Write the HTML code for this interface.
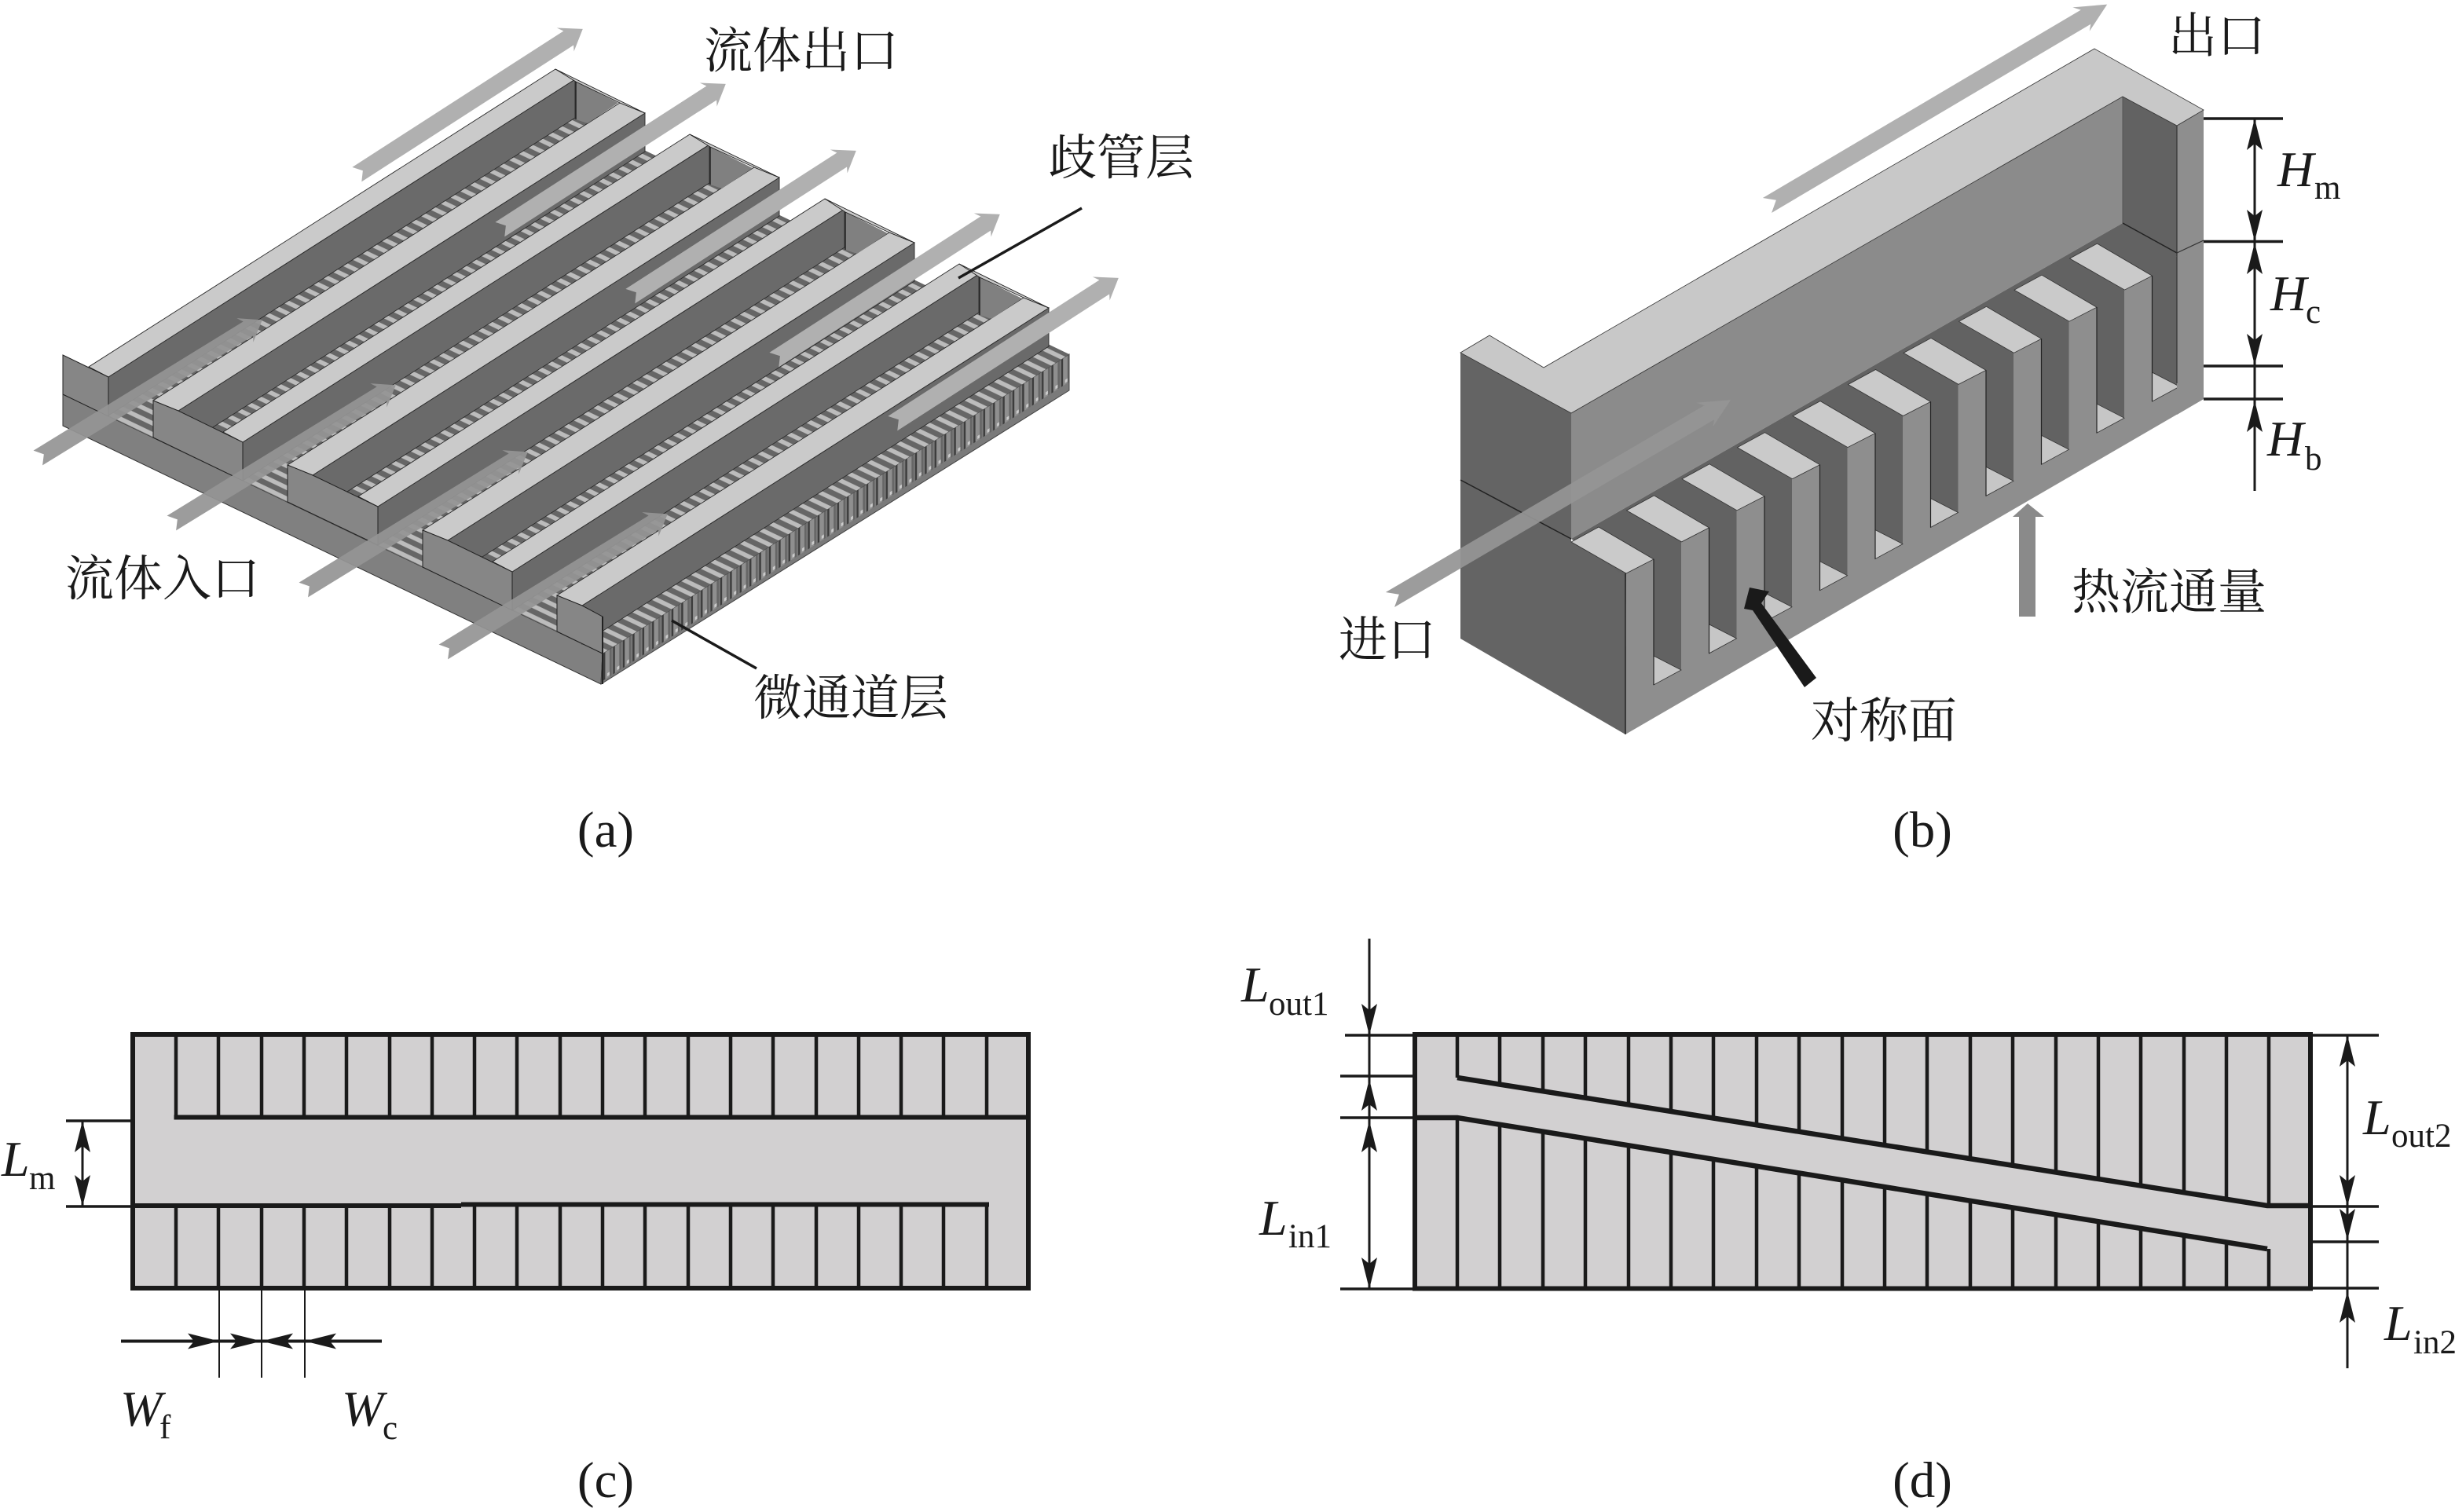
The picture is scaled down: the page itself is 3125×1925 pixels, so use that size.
<!DOCTYPE html>
<html lang="zh"><head><meta charset="utf-8"><title>歧管微通道结构示意图</title>
<style>
html,body{margin:0;padding:0;background:#fff}
svg{display:block}
text{font-family:"Liberation Serif","Noto Serif CJK SC",serif;fill:#1a1a1a}
.c{font-size:62px}
.i{font-size:64px;font-style:italic}
.s{font-size:43px}
.p{font-size:65px;text-anchor:middle}
</style></head><body>
<svg xmlns="http://www.w3.org/2000/svg" width="3125" height="1925" viewBox="0 0 3125 1925">
<defs>
<pattern id="fl" patternUnits="userSpaceOnUse" width="12.4" height="20" patternTransform="matrix(1,-.641,1,.48,767,832)">
<rect width="12.4" height="20" fill="#666"/><rect x="1" width="5.500" height="20" fill="#bcbcbc"/>
</pattern>
<pattern id="sd" patternUnits="userSpaceOnUse" width="12.4" height="47" patternTransform="matrix(1,-.641,0,1,767,832)">
<rect width="12.4" height="47" fill="#7a7a7a"/>
<rect x="1" y="0" width="2.500" height="35" fill="#3c3c3c"/>
<rect x="3.500" y="0" width="5.500" height="35" fill="#8f8f8f"/>
<rect x="9" y="0" width="2.500" height="35" fill="#666"/>
<rect x="6" y="29" width="3" height="4" fill="#ccc"/>
</pattern>
<path id="ah" d="M0,0 L-10,40 L0,32 L10,40Z" fill="#1a1a1a"/>
<polygon id="ar" points="-2,-11 318,-11 313,-19 340,0 315,18 319,11 -2,11 7,0"/>
<g id="ew"><polygon points="733,104 787,131 748,157 733,152" fill="#808080"/><line x1="733" y1="104" x2="733" y2="152" stroke="#222" stroke-width="1.500"/></g>
<g id="bf">
<polygon points="2035,671 2072,650 2140,690 2140,853 2105,835 2105,712" fill="#626262"/>
<polygon points="2105,835 2140,853 2105,872" fill="#c6c6c6" stroke="#333" stroke-width=".8"/>
<polygon points="2000,690 2035,671 2105,712 2070,730" fill="#cacaca" stroke="#333" stroke-width=".8"/>
<line x1="2105" y1="712" x2="2105" y2="872" stroke="#222" stroke-width="1.200"/>
</g>
</defs>
<rect width="3125" height="1925" fill="#fff"/>

<!-- panel a: base -->
<polygon points="80,502 767,832 765,871 80,542" fill="#808080" stroke="#333" stroke-width="1"/>
<polygon points="767,832 1361,451 1361,497 765,871" fill="url(#sd)" stroke="#444" stroke-width="1"/>
<polygon points="80,502 767,832 1361,451 674,121" fill="url(#fl)"/>

<!-- walls and strips -->
<g stroke="#2a2a2a" stroke-width=".9">
<polygon points="138,480 732,101 732,150 138,529" fill="#6a6a6a"/>
<polygon points="113,467 138,480 732,101 707,88" fill="#cacaca"/>
<polygon points="227,523 821,144 821,193 227,572" fill="#6a6a6a"/>
<polygon points="195,510 227,523 821,144 789,131" fill="#cacaca"/>
<polygon points="309,563 903,184 903,233 309,612" fill="#6a6a6a"/>
<polygon points="284,550 309,563 903,184 878,171" fill="#cacaca"/>
<polygon points="398,605 992,226 992,275 398,654" fill="#6a6a6a"/>
<polygon points="366,592 398,605 992,226 960,213" fill="#cacaca"/>
<polygon points="481,645 1075,266 1075,315 481,694" fill="#6a6a6a"/>
<polygon points="456,632 481,645 1075,266 1050,253" fill="#cacaca"/>
<polygon points="570,688 1164,309 1164,358 570,737" fill="#6a6a6a"/>
<polygon points="538,675 570,688 1164,309 1132,296" fill="#cacaca"/>
<polygon points="652,728 1246,349 1246,398 652,777" fill="#6a6a6a"/>
<polygon points="627,715 652,728 1246,349 1221,336" fill="#cacaca"/>
<polygon points="741,771 1335,392 1335,441 741,820" fill="#6a6a6a"/>
<polygon points="709,758 741,771 1335,392 1303,379" fill="#cacaca"/>
</g>
<use href="#ew"/>
<use href="#ew" transform="translate(171,83)"/>
<use href="#ew" transform="translate(343,166)"/>
<use href="#ew" transform="translate(514,249)"/>
<g fill="#cacaca" stroke="#222" stroke-width=".9">
<polygon points="707,88 821,144 789,131 733,104"/>
<polygon points="878,171 992,226 960,213 904,187"/>
<polygon points="1050,253 1164,309 1132,296 1076,270"/>
<polygon points="1221,336 1335,392 1303,379 1247,353"/>
</g>
<!-- front plates -->
<g fill="#868686" stroke="#222" stroke-width="1">
<polygon points="80,452 138,480 138,530 80,502"/>
<polygon points="195,510 227,523 309,563 309,612 195,557"/>
<polygon points="366,592 398,605 481,645 481,694 366,639"/>
<polygon points="538,675 570,688 652,728 652,777 538,722"/>
<polygon points="709,758 741,771 767,785 767,832 709,804"/>
</g>
<line x1="767" y1="785" x2="767" y2="871" stroke="#222" stroke-width="2"/>

<!-- arrows panel a -->
<g fill="#b0b0b0">
<use href="#ar" transform="translate(456,221) rotate(-32.8)"/>
<use href="#ar" transform="translate(638,291) rotate(-32.8)"/>
<use href="#ar" transform="translate(804,376) rotate(-32.8)"/>
<use href="#ar" transform="translate(987,457) rotate(-32.8)"/>
<use href="#ar" transform="translate(1138,538) rotate(-32.8)"/>
</g>
<g fill="#959595" fill-opacity=".93">
<use href="#ar" transform="translate(50,582) rotate(-31.6) scale(.98,1)"/>
<use href="#ar" transform="translate(220,665) rotate(-31.6) scale(.98,1)"/>
<use href="#ar" transform="translate(388,750) rotate(-31.6) scale(.98,1)"/>
<use href="#ar" transform="translate(566,829) rotate(-31.6) scale(.98,1)"/>
</g>

<line x1="1377" y1="265" x2="1220" y2="354" stroke="#1a1a1a" stroke-width="3.500"/>
<line x1="855" y1="790" x2="963" y2="851" stroke="#1a1a1a" stroke-width="3.500"/>
<text class="c" x="896" y="86">流体出口</text>
<text class="c" x="1334" y="222">歧管层</text>
<text class="c" x="83" y="758">流体入口</text>
<text class="c" x="959" y="910">微通道层</text>
<text class="p" x="771" y="1078">(a)</text>

<!-- panel b -->
<polygon points="1859,449 2000,526 2000,690 2070,730 2069,935 1859,813" fill="#646464"/>
<line x1="1859" y1="611" x2="2000" y2="686" stroke="#222" stroke-width="1.500"/>
<polygon points="2000,526 2702,123 2702,284 2000,686" fill="#8b8b8b"/>
<polygon points="2702,123 2771,160 2771,490 2702,450" fill="#626262"/>
<polygon points="2000,686 2702,284 2771,322 2771,345 2070,735" fill="#626262"/>
<line x1="2702" y1="123" x2="2702" y2="284" stroke="#555" stroke-width="1"/>
<line x1="2702" y1="284" x2="2771" y2="322" stroke="#222" stroke-width="1.500"/>
<polygon points="2070,730 2805,306 2805,508 2069,935" fill="#8e8e8e"/>
<use href="#bf"/>
<use href="#bf" transform="translate(70.5,-40.1)"/>
<use href="#bf" transform="translate(141,-80.2)"/>
<use href="#bf" transform="translate(211.5,-120.3)"/>
<use href="#bf" transform="translate(282,-160.4)"/>
<use href="#bf" transform="translate(352.5,-200.5)"/>
<use href="#bf" transform="translate(423,-240.6)"/>
<use href="#bf" transform="translate(493.5,-280.7)"/>
<use href="#bf" transform="translate(564,-320.8)"/>
<use href="#bf" transform="translate(634.5,-360.9)"/>
<polygon points="2771,160 2805,140 2805,508 2771,528" fill="#8e8e8e"/>
<line x1="2771" y1="322" x2="2805" y2="306" stroke="#333" stroke-width="1.200"/>
<line x1="2771" y1="160" x2="2771" y2="488" stroke="#333" stroke-width="1.200"/>
<polygon points="1859,449 1896,427 1965,468 2666,62 2805,140 2771,160 2702,123 2000,526" fill="#c8c8c8" stroke="#333" stroke-width=".8"/>
<line x1="2069" y1="730" x2="2069" y2="935" stroke="#222" stroke-width="1.500"/>

<use href="#ar" fill="#b0b0b0" transform="translate(2252,260) rotate(-30.6) scale(1.47,1)"/>
<use href="#ar" fill="#959595" fill-opacity=".93" transform="translate(1772,762) rotate(-30.4) scale(1.47,1)"/>
<polygon points="2570,785 2591,785 2591,658 2602,658 2581,641 2562,658 2570,658" fill="#8a8a8a"/>
<polygon points="2227,748 2252,753 2242,768 2312,863 2297,875 2231,777 2220,775" fill="#1a1a1a"/>

<g stroke="#1a1a1a" stroke-width="3.500">
<line x1="2805" y1="151" x2="2906" y2="151"/>
<line x1="2805" y1="307.5" x2="2906" y2="307.5"/>
<line x1="2805" y1="466" x2="2906" y2="466"/>
<line x1="2805" y1="508" x2="2906" y2="508"/>
<line x1="2870" y1="151" x2="2870" y2="625" stroke-width="3"/>
</g>
<use href="#ah" transform="translate(2870,151)"/>
<use href="#ah" transform="translate(2870,307) rotate(180)"/>
<use href="#ah" transform="translate(2870,309)"/>
<use href="#ah" transform="translate(2870,465) rotate(180)"/>
<use href="#ah" transform="translate(2870,510)"/>
<text class="i" x="2899" y="237">H</text><text class="s" x="2946" y="253">m</text>
<text class="i" x="2890" y="395">H</text><text class="s" x="2935" y="411">c</text>
<text class="i" x="2886" y="580">H</text><text class="s" x="2934" y="598">b</text>
<text class="c" x="2760" y="67">出口</text>
<text class="c" x="1704" y="836">进口</text>
<text class="c" x="2637" y="775">热流通量</text>
<text class="c" x="2305" y="939">对称面</text>
<text class="p" x="2447" y="1078">(b)</text>

<!-- panel c -->
<rect x="169" y="1317" width="1140" height="323" fill="#d2d0d1" stroke="#1a1a1a" stroke-width="6"/>
<path fill="none" stroke="#1a1a1a" stroke-width="4.500" d="M224 1317V1422M278 1317V1422M333 1317V1422M387 1317V1422M441 1317V1422M496 1317V1422M550 1317V1422M604 1317V1422M658 1317V1422M713 1317V1422M767 1317V1422M821 1317V1422M876 1317V1422M930 1317V1422M984 1317V1422M1039 1317V1422M1093 1317V1422M1147 1317V1422M1201 1317V1422M1256 1317V1422
M224 1534V1640M278 1534V1640M333 1534V1640M387 1534V1640M441 1534V1640M496 1534V1640M550 1534V1640M604 1534V1640M658 1534V1640M713 1534V1640M767 1534V1640M821 1534V1640M876 1534V1640M930 1534V1640M984 1534V1640M1039 1534V1640M1093 1534V1640M1147 1534V1640M1201 1534V1640M1256 1534V1640"/>
<path fill="none" stroke="#1a1a1a" stroke-width="6" d="M221.500 1422.500H1309M169 1535H587M587 1533.500H1259"/>
<g stroke="#1a1a1a">
<path fill="none" stroke-width="3.500" d="M84 1427H169M84 1536H169"/>
<line x1="105" y1="1427" x2="105" y2="1536" stroke-width="3"/>
<path fill="none" stroke-width="2" d="M279 1640V1754M333 1640V1754M388 1640V1754"/>
<line x1="154" y1="1707.500" x2="486" y2="1707.500" stroke-width="4"/>
</g>
<use href="#ah" transform="translate(105,1427)"/>
<use href="#ah" transform="translate(105,1536) rotate(180)"/>
<use href="#ah" transform="translate(279,1707.500) rotate(90)"/>
<use href="#ah" transform="translate(333,1707.500) rotate(90)"/>
<use href="#ah" transform="translate(333,1707.500) rotate(-90)"/>
<use href="#ah" transform="translate(388,1707.500) rotate(-90)"/>
<text class="i" x="2" y="1497">L</text><text class="s" x="37" y="1514">m</text>
<text class="i" x="153" y="1815">W</text><text class="s" x="203" y="1831">f</text>
<text class="i" x="435" y="1815">W</text><text class="s" x="487" y="1832">c</text>
<text class="p" x="771" y="1906">(c)</text>

<!-- panel d -->
<rect x="1801" y="1317" width="1140" height="323.500" fill="#d2d0d1" stroke="#1a1a1a" stroke-width="6"/>
<path fill="none" stroke="#1a1a1a" stroke-width="4.500" d="M1855 1317V1372M1909 1317V1381M1964 1317V1389M2018 1317V1398M2073 1317V1406M2127 1317V1415M2181 1317V1424M2236 1317V1432M2290 1317V1441M2345 1317V1449M2399 1317V1458M2453 1317V1467M2508 1317V1475M2562 1317V1484M2617 1317V1492M2671 1317V1501M2725 1317V1510M2780 1317V1518M2834 1317V1527M2888 1317V1535
M1855 1423V1640M1909 1432V1640M1964 1441V1640M2018 1449V1640M2073 1458V1640M2127 1467V1640M2181 1476V1640M2236 1485V1640M2290 1493V1640M2345 1502V1640M2399 1511V1640M2453 1520V1640M2508 1529V1640M2562 1537V1640M2617 1546V1640M2671 1555V1640M2725 1564V1640M2780 1573V1640M2834 1582V1640M2888 1590V1640"/>
<path fill="none" stroke="#1a1a1a" stroke-width="6.500" d="M1855 1372L2886 1535H2941M1801 1423H1855L2886 1590"/>
<g stroke="#1a1a1a">
<path fill="none" stroke-width="3.500" d="M1712 1318H1801M1706 1370H1801M1706 1423H1801M1706 1641H1801M2941 1318H3028M2941 1536H3028M2941 1581H3028M2941 1640H3028"/>
<line x1="1743" y1="1195" x2="1743" y2="1641" stroke-width="3"/>
<line x1="2988" y1="1318" x2="2988" y2="1742" stroke-width="3"/>
</g>
<use href="#ah" transform="translate(1743,1318) rotate(180)"/>
<use href="#ah" transform="translate(1743,1374)"/>
<use href="#ah" transform="translate(1743,1427)"/>
<use href="#ah" transform="translate(1743,1641) rotate(180)"/>
<use href="#ah" transform="translate(2988,1318)"/>
<use href="#ah" transform="translate(2988,1536) rotate(180)"/>
<use href="#ah" transform="translate(2988,1579) rotate(180)"/>
<use href="#ah" transform="translate(2988,1644)"/>
<text class="i" x="1580" y="1275">L</text><text class="s" x="1615" y="1292">out1</text>
<text class="i" x="1603" y="1572">L</text><text class="s" x="1640" y="1588">in1</text>
<text class="i" x="3008" y="1444">L</text><text class="s" x="3044" y="1460">out2</text>
<text class="i" x="3035" y="1706">L</text><text class="s" x="3072" y="1723">in2</text>
<text class="p" x="2447" y="1906">(d)</text>
</svg>
</body></html>
